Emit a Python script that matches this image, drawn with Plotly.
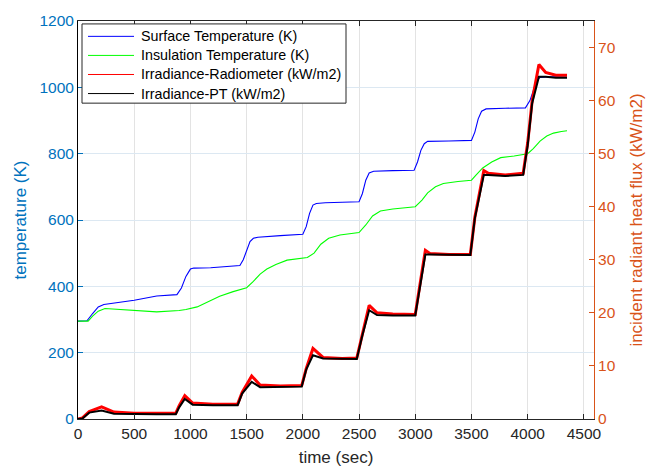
import plotly.graph_objects as go

# ---- data ----
surf_t = [0, 80, 130, 180, 230, 350, 500, 700, 880, 920, 960, 1000, 1030, 1180, 1440, 1470, 1500, 1530, 1560, 1600,
          1800, 2000, 2030, 2060, 2090, 2120, 2200, 2500, 2530, 2560, 2590, 2630, 2800, 2990, 3020, 3050, 3080, 3110,
          3300, 3500, 3530, 3560, 3590, 3630, 3800, 3980, 4020, 4050, 4080, 4110, 4200, 4350]
surf_T = [295, 296, 318, 338, 345, 350, 358, 371, 375, 395, 430, 452, 455, 456, 463, 480, 510, 535, 545, 548,
          553, 557, 580, 620, 645, 650, 652, 655, 680, 720, 742, 747, 749, 750, 775, 810, 830, 837,
          838, 840, 865, 905, 928, 935, 937, 938, 960, 990, 1020, 1030, 1032, 1030]

ins_t = [0, 90, 130, 180, 240, 350, 500, 700, 900, 960, 1060, 1150, 1260, 1380, 1500, 1560, 1620, 1680, 1760,
         1860, 2040, 2100, 2160, 2230, 2330, 2500, 2560, 2620, 2690, 2800, 3000, 3060, 3110, 3180, 3250, 3380,
         3500, 3540, 3600, 3680, 3760, 3880, 4000, 4050, 4110, 4170, 4230, 4300, 4350]
ins_T = [295, 295, 310, 325, 333, 331, 328, 323, 327, 330, 338, 352, 370, 384, 396, 415, 437, 452, 466,
         479, 487, 500, 527, 545, 555, 562, 585, 612, 627, 633, 640, 660, 682, 700, 710, 716,
         720, 735, 757, 775, 788, 793, 800, 815, 838, 853, 862, 867, 869]

irr_t = [0, 40, 100, 210, 320, 500, 700, 870, 900, 950, 1020, 1200, 1420, 1460, 1545, 1620, 1800, 1990, 2030,
         2090, 2180, 2350, 2480, 2530, 2590, 2660, 2800, 3000, 3040, 3090, 3130, 3300, 3490, 3530, 3610, 3650,
         3800, 3960, 4000, 4040, 4100, 4160, 4250, 4350]
rad_q = [0, 0.2, 1.4, 2.3, 1.3, 1.1, 1.1, 1.1, 2.5, 4.4, 3.0, 2.8, 2.8, 5.0, 8.1, 6.4, 6.2, 6.3, 9.5,
         13.3, 11.6, 11.4, 11.5, 16, 21.4, 20.0, 19.8, 19.7, 25, 31.8, 31.2, 31.0, 31.0, 38, 46.8, 46.3,
         46.0, 46.3, 52, 60, 66.8, 65.3, 64.8, 64.8]
pt_q = [0, 0.1, 1.2, 1.6, 1.0, 0.9, 0.9, 0.9, 2.2, 3.8, 2.7, 2.6, 2.6, 4.8, 7.0, 6.0, 6.0, 6.1, 9.3,
        12.0, 11.4, 11.3, 11.3, 15.8, 20.5, 19.6, 19.5, 19.5, 24.8, 31.0, 31.0, 30.9, 30.9, 37.8, 46.0, 46.0,
        45.8, 46.0, 51.5, 59.5, 64.5, 64.5, 64.3, 64.3]

x_ticks = [0, 500, 1000, 1500, 2000, 2500, 3000, 3500, 4000, 4500]

series_names = ["Surface Temperature (K)", "Insulation Temperature (K)",
                "Irradiance-Radiometer (kW/m2)", "Irradiance-PT (kW/m2)"]
series_colors = ["#0000FF", "#00FF00", "#FF0000", "#000000"]

BLUE_AX = "#0072BD"
ORANGE_AX = "#D95319"
GRAY = "#262626"
FONT = "Liberation Sans, Arial, sans-serif"

fig = go.Figure()
fig.add_trace(go.Scatter(x=surf_t, y=surf_T, mode="lines", name=series_names[0],
                         line=dict(color=series_colors[0], width=1.1)))
fig.add_trace(go.Scatter(x=ins_t, y=ins_T, mode="lines", name=series_names[1],
                         line=dict(color=series_colors[1], width=1.1)))
fig.add_trace(go.Scatter(x=irr_t, y=rad_q, mode="lines", name=series_names[2],
                         line=dict(color=series_colors[2], width=3), yaxis="y2"))
fig.add_trace(go.Scatter(x=irr_t, y=pt_q, mode="lines", name=series_names[3],
                         line=dict(color=series_colors[3], width=2), yaxis="y2"))

# ---- MATLAB-style legend box (plot area: x 78..594 px, y 12..419 px) ----
PL, PR, PT, PB = 78.0, 594.0, 12.0, 419.0
def px_x(p):
    return (p - PL) / (PR - PL)
def px_y(p):
    return (PB - p) / (PB - PT)

shapes = [dict(type="rect", xref="paper", yref="paper",
               x0=px_x(82), x1=px_x(346), y0=px_y(96), y1=px_y(15),
               line=dict(color=GRAY, width=1), fillcolor="white", layer="above")]
annotations = []
row_y = [27.7, 47.2, 66.7, 86.2]
for name, col, ry in zip(series_names, series_colors, row_y):
    shapes.append(dict(type="line", xref="paper", yref="paper",
                       x0=px_x(88), x1=px_x(134), y0=px_y(ry), y1=px_y(ry),
                       line=dict(color=col, width=1), layer="above"))
    annotations.append(dict(xref="paper", yref="paper", x=px_x(139), y=px_y(ry),
                            xanchor="left", yanchor="middle", text=name, showarrow=False,
                            font=dict(size=14.3, color="#000000", family=FONT)))

fig.update_layout(
    width=646, height=476,
    margin=dict(l=78, r=52, t=12, b=57),
    paper_bgcolor="white", plot_bgcolor="white",
    font=dict(family=FONT, size=15, color=GRAY),
    showlegend=False,
    shapes=shapes, annotations=annotations,
    xaxis=dict(range=[0, 4590], tickvals=x_ticks, ticks="inside", ticklen=5,
               tickcolor=GRAY, showline=True, linecolor=GRAY, linewidth=1, mirror="ticks",
               showgrid=True, gridcolor="#E3E3E3", zeroline=False,
               tickfont=dict(size=15.5, color=GRAY),
               title=dict(text="time (sec)", font=dict(size=17, color=GRAY), standoff=10)),
    yaxis=dict(range=[0, 1200], dtick=200, ticks="inside", ticklen=5, tickcolor=BLUE_AX,
               showline=True, linecolor="#000000", linewidth=1,
               showgrid=True, gridcolor="#DCE8F2", zeroline=False,
               tickfont=dict(size=15.5, color=BLUE_AX),
               title=dict(text="temperature (K)", font=dict(size=17, color=BLUE_AX), standoff=8)),
    yaxis2=dict(range=[0, 75], dtick=10, overlaying="y", side="right", ticks="inside", ticklen=5,
                tickcolor=ORANGE_AX, showline=True, linecolor=ORANGE_AX, linewidth=1,
                showgrid=False, zeroline=False, automargin=False,
                tickfont=dict(size=15.5, color=ORANGE_AX),
                title=dict(text="incident radiant heat flux (kW/m2)", font=dict(size=17, color=ORANGE_AX),
                           standoff=18)),
)

fig.write_html("out.html")
